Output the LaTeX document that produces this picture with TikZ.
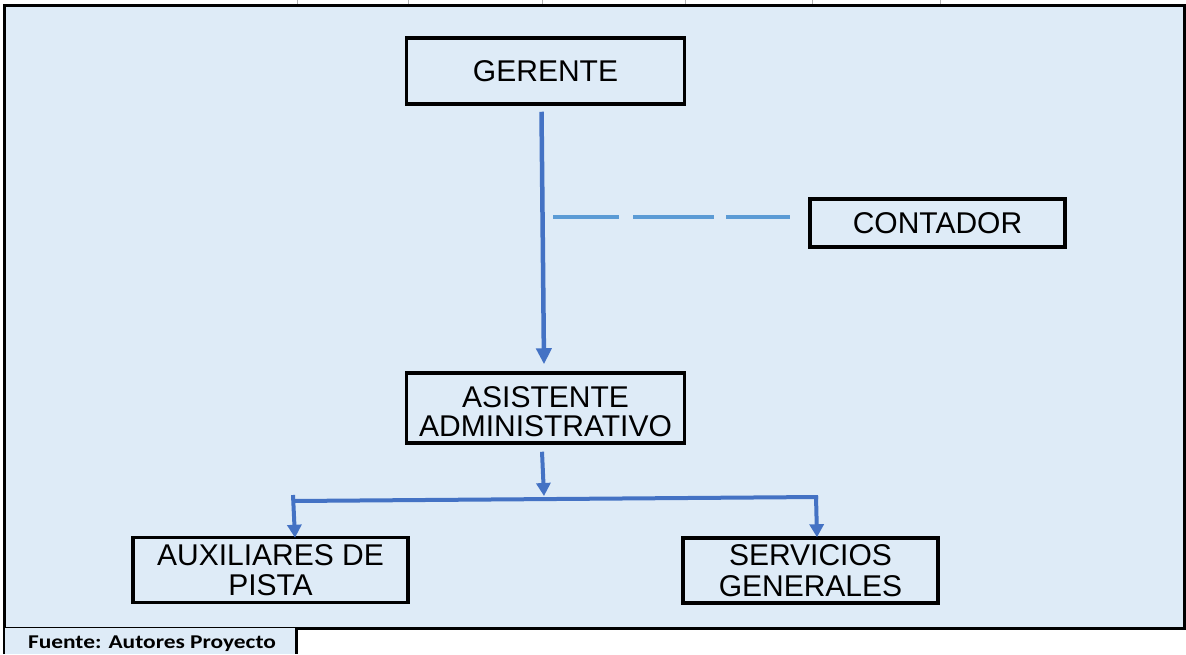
\documentclass[tikz,border=0pt]{standalone}
\usepackage{fontspec}
\setmainfont{Liberation Sans}
\newfontfamily\carlito{Carlito}
\usetikzlibrary{arrows.meta}
\definecolor{bgblue}{HTML}{DEEBF7}
\definecolor{arrblue}{HTML}{4472C4}
\definecolor{dashblue}{HTML}{5B9BD5}
\tikzset{
  orgbox/.style={draw=black, line width=3.5pt, fill=bgblue, rectangle, inner sep=0pt, align=center,
    font=\fontsize{30}{30.5}\selectfont},
  solidarrow/.style={draw=arrblue, line width=4.5pt, -{Triangle[width=15pt,length=16pt]}},
  smallarrow/.style={draw=arrblue, line width=4pt, -{Triangle[width=14pt,length=13pt]}},
  solidline/.style={draw=arrblue, line width=4pt},
  dashline/.style={draw=dashblue, line width=4pt, dash pattern=on 66pt off 14pt on 81pt off 12pt},
  gridtick/.style={draw=gray!60, line width=1pt}
}
\begin{document}
\begin{tikzpicture}[x=1pt,y=-1pt]
\useasboundingbox (0,0) rectangle (1186,654);
% background frame
\fill[bgblue] (4.5,5) rectangle (1186,628);
\draw[black, line width=3pt] (4.5,654) -- (4.5,5) -- (1186,5);
\draw[black, line width=3pt] (4.5,628) -- (1186,628);
\draw[black, line width=3pt] (1184.5,5) -- (1184.5,628);
% footer cell
\fill[bgblue] (4.5,628) rectangle (296,654);
\draw[black, line width=3pt] (296,628) -- (296,654);
\node[font=\carlito\bfseries\fontsize{19.5}{22}\selectfont, anchor=center, xscale=1.2, transform shape] (src) at (152,643.5) {Fuente: Autores Proyecto};
% grid ticks on top
\foreach \gx in {297,408,542,685,812,940} \draw[gridtick] (\gx,0) -- (\gx,4);
% boxes
\node[orgbox, minimum width=278pt, minimum height=66pt] (ger) at (545.5,71) {GERENTE};
\node[orgbox, minimum width=255pt, minimum height=48pt] (cont) at (937.5,223) {CONTADOR};
\node[orgbox, minimum width=278pt, minimum height=70pt] (asis) at (545.5,408) {\raisebox{-14.6pt}[0pt][0pt]{\begin{tabular}{@{}c@{}}ASISTENTE\\[-1.5pt]ADMINISTRATIVO\end{tabular}}};
\node[orgbox, minimum width=275pt, minimum height=65pt] (aux) at (270.5,570) {AUXILIARES DE\\PISTA};
\node[orgbox, minimum width=255pt, minimum height=65pt] (serv) at (810.5,570.5) {SERVICIOS\\GENERALES};
% connectors
\draw[solidarrow] ([xshift=-4pt,yshift=-6pt]ger.south) -- ([xshift=-1.5pt,yshift=7pt]asis.north);
\coordinate (dstart) at (553,217);
\draw[dashline] (dstart) -- (dstart -| cont.west) [shorten >=18pt];
\coordinate (jl) at (293,501);
\coordinate (jr) at (818,497);
\draw[smallarrow] ([xshift=-3.5pt,yshift=-7pt]asis.south) -- (544,496);
\draw[solidline] (jl) -- (jr);
\draw[smallarrow] (293,495) -- ([xshift=24.5pt,yshift=-2pt]aux.north);
\draw[smallarrow] (816,496) -- ([xshift=6.5pt,yshift=-1pt]serv.north);
\end{tikzpicture}
\end{document}
